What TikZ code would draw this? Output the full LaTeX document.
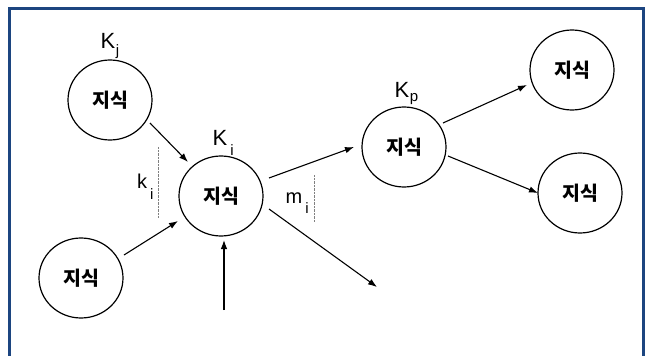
\documentclass[tikz,border=0pt]{standalone}
\usepackage{fontspec}
\setmainfont{Liberation Sans}
\newfontfamily\kr{Noto Sans CJK KR}
\usetikzlibrary{shapes.geometric,arrows.meta}
\definecolor{framec}{RGB}{28,69,128}
\begin{document}
\begin{tikzpicture}[x=1pt,y=-1pt,
  know/.style={ellipse,draw,line width=1.2pt,minimum width=84pt,minimum height=80pt,inner sep=0pt,
    font=\kr\bfseries\fontsize{19.5}{21}\selectfont},
  arr/.style={line width=1.1pt,-{Latex[length=9pt,width=6.5pt]}},
  lbl/.style={anchor=base west,inner sep=0pt},
  big/.style={font=\fontsize{22}{24}\selectfont},
  mid/.style={font=\fontsize{20}{22}\selectfont},
  guide/.style={draw=gray,line width=0.6pt,dash pattern=on 0.7pt off 0.7pt},
  framel/.style={draw=framec,line width=3pt}]
\useasboundingbox (0,0) rectangle (651,356);
% frame
\draw[framel] (9,356) -- (9,8) -- (643,8) -- (643,356);
% knowledge nodes
\node[know] (kj) at (110,100) {지식};
\node[know] (ki) at (221,196) {지식};
\node[know] (bl) at (81,278) {지식};
\node[know] (kp) at (404,147) {지식};
\node[know] (tr) at (572,70) {지식};
\node[know] (rr) at (580,193) {지식};
% labels
\newcommand\subtx[1]{{\fontsize{15}{15}\selectfont #1}}
\node[lbl,big] (lkj) at (100.5,48) {K\kern0.5pt\raisebox{-7pt}{\subtx{j}}};
\node[lbl,big] (lki) at (212.5,145) {K\kern3pt\raisebox{-10pt}{\subtx{i}}};
\node[lbl,big] (lkp) at (394.5,97) {K\kern0.5pt\raisebox{-4pt}{\subtx{p}}};
\node[lbl,mid] (lk) at (137,188) {k\kern3pt\raisebox{-11pt}{\subtx{i}}};
\node[lbl,mid] (lm) at (285.5,203) {m\kern3pt\raisebox{-10pt}{\subtx{i}}};
% dotted guides
\draw[guide] (158,147) -- (158,218);
\draw[guide] (314.5,175) -- (314.5,222);
% free ends
\coordinate (inb) at (224,310);
\coordinate (outf) at (377,287);
% connectors
\draw[arr] ([shift={(40,23)}]kj.center) -- ([shift={(-33,-34)}]ki.center);
\draw[arr] ([shift={(43,-23)}]bl.center) -- ([shift={(-43,25)}]ki.center);
\draw[arr] (inb) -- ([shift={(3,44)}]ki.center);
\draw[arr] ([shift={(48,-18)}]ki.center) -- ([shift={(-50,0)}]kp.center);
\draw[arr] ([shift={(48,13)}]ki.center) -- (outf);
\draw[arr] ([shift={(39,-24)}]kp.center) -- ([shift={(-45,15)}]tr.center);
\draw[arr] ([shift={(44,9)}]kp.center) -- ([shift={(-42,0)}]rr.center);
\end{tikzpicture}
\end{document}
